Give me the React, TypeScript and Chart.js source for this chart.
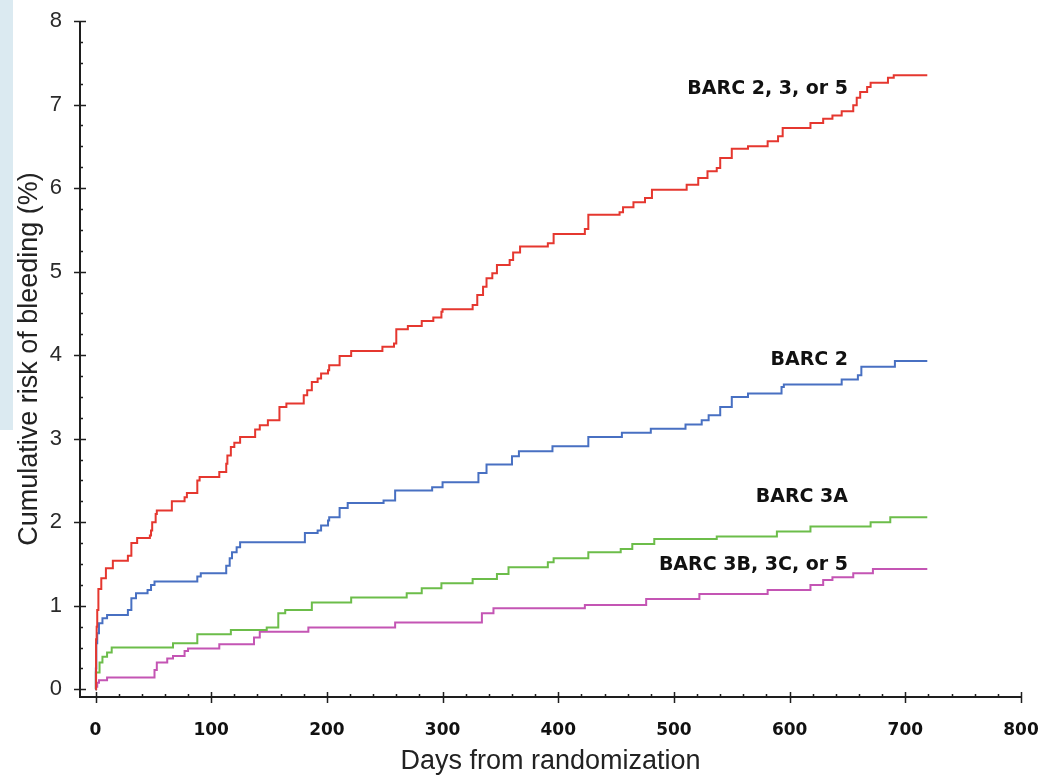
import React, { useEffect, useRef } from 'react';
import { Chart, registerables } from 'chart.js';

Chart.register(...registerables);

// Axis ticks
const xTicks = [0, 100, 200, 300, 400, 500, 600, 700, 800];
const yTicks = [0, 1, 2, 3, 4, 5, 6, 7, 8];

// BARC 2, 3, or 5 (red)
const redDays = [0, 0.5, 1, 1.5, 2.5, 5, 9, 15, 28, 31, 36, 47, 48, 49, 52, 53, 66, 77, 79, 88, 90, 107, 113, 114, 117, 120, 125, 138, 142, 149, 159, 165, 180, 183, 187, 192, 195, 201, 202, 211, 221, 248, 258, 260, 270, 282, 292, 299, 300, 326, 330, 335, 338, 343, 347, 358, 361, 367, 391, 396, 423, 426, 453, 456, 465, 475, 481, 511, 521, 529, 537, 540, 550, 564, 581, 590, 594, 618, 629, 637, 645, 655, 658, 661, 667, 670, 685, 690, 719];
const redVals = [0, 0.6, 0.75, 0.95, 1.2, 1.33, 1.45, 1.54, 1.6, 1.75, 1.81, 1.84, 1.9, 2.0, 2.1, 2.14, 2.25, 2.3, 2.35, 2.5, 2.54, 2.6, 2.7, 2.8, 2.9, 2.95, 3.02, 3.11, 3.16, 3.22, 3.38, 3.42, 3.52, 3.58, 3.68, 3.72, 3.78, 3.82, 3.88, 3.99, 4.05, 4.1, 4.14, 4.31, 4.35, 4.41, 4.45, 4.52, 4.55, 4.6, 4.72, 4.82, 4.92, 4.98, 5.08, 5.14, 5.23, 5.3, 5.34, 5.45, 5.51, 5.68, 5.71, 5.77, 5.83, 5.88, 5.98, 6.04, 6.12, 6.2, 6.24, 6.36, 6.47, 6.5, 6.56, 6.62, 6.72, 6.78, 6.83, 6.87, 6.92, 6.99, 7.08, 7.15, 7.21, 7.26, 7.32, 7.35, 7.35];

// BARC 2 (blue)
const blueDays = [0, 0.3, 0.7, 1.5, 3, 6, 10, 28, 31, 35, 45, 48, 51, 88, 91, 113, 116, 118, 122, 125, 181, 192, 195, 201, 202, 211, 218, 249, 259, 291, 300, 331, 338, 360, 366, 395, 426, 455, 480, 510, 524, 530, 540, 550, 564, 593, 595, 645, 659, 662, 691, 719];
const blueVals = [0, 0.25, 0.55, 0.67, 0.79, 0.85, 0.89, 0.95, 1.09, 1.15, 1.19, 1.25, 1.29, 1.35, 1.39, 1.48, 1.57, 1.64, 1.7, 1.76, 1.87, 1.9, 1.96, 2.02, 2.06, 2.17, 2.23, 2.26, 2.38, 2.42, 2.48, 2.59, 2.69, 2.79, 2.85, 2.91, 3.02, 3.07, 3.12, 3.17, 3.22, 3.28, 3.38, 3.5, 3.54, 3.62, 3.65, 3.71, 3.76, 3.86, 3.93, 3.93];

// BARC 3A (green)
const greenDays = [0, 0.3, 3.5, 6, 10, 14, 67, 88, 117, 148, 158, 164, 187, 221, 269, 282, 299, 326, 347, 357, 391, 396, 426, 454, 464, 483, 537, 589, 618, 670, 687, 719];
const greenVals = [0, 0.2, 0.32, 0.39, 0.44, 0.5, 0.55, 0.66, 0.71, 0.74, 0.91, 0.95, 1.04, 1.1, 1.15, 1.21, 1.27, 1.32, 1.38, 1.46, 1.52, 1.57, 1.64, 1.68, 1.74, 1.8, 1.83, 1.89, 1.95, 2.0, 2.06, 2.06];

// BARC 3B, 3C, or 5 (magenta)
const purpleDays = [0, 0.5, 1.5, 3, 10, 51, 53, 62, 67, 77, 80, 107, 137, 142, 184, 259, 334, 344, 423, 476, 522, 581, 618, 629, 637, 655, 672, 719];
const purpleVals = [0, 0.03, 0.08, 0.11, 0.14, 0.23, 0.32, 0.37, 0.4, 0.46, 0.49, 0.54, 0.62, 0.69, 0.74, 0.8, 0.91, 0.97, 1.01, 1.08, 1.14, 1.19, 1.25, 1.31, 1.34, 1.39, 1.44, 1.44];

const seriesNames = ['BARC 2, 3, or 5', 'BARC 2', 'BARC 3A', 'BARC 3B, 3C, or 5'];
const seriesColors = ['#e5372f', '#4870c2', '#6cbd4a', '#c455b4'];
const seriesDays = [redDays, blueDays, greenDays, purpleDays];
const seriesVals = [redVals, blueVals, greenVals, purpleVals];

// Curve-label anchors (data coordinates, right-aligned)
const labelDays = [650.5, 650.5, 650.5, 650.5];
const labelVals = [7.19, 3.94, 2.305, 1.49];

const X_MIN = -13.4;
const Y_MIN = -0.092;

const axesPlugin = {
  id: 'customAxes',
  beforeDatasetsDraw(chart: any) {
    const { ctx, chartArea, scales } = chart;
    const xs = scales.x;
    const ys = scales.y;
    const left = chartArea.left;
    const bottom = chartArea.bottom;
    ctx.save();
    ctx.strokeStyle = '#1e1e1e';
    ctx.lineWidth = 2;
    ctx.beginPath();
    ctx.moveTo(left, ys.getPixelForValue(yTicks[yTicks.length - 1]));
    ctx.lineTo(left, bottom);
    ctx.lineTo(xs.getPixelForValue(xTicks[xTicks.length - 1]), bottom);
    ctx.stroke();

    ctx.lineWidth = 1.5;
    ctx.beginPath();
    for (let i = 0; i < yTicks.length; i++) {
      const py = Math.round(ys.getPixelForValue(yTicks[i])) + 0.5;
      ctx.moveTo(left - 6, py);
      ctx.lineTo(left + 6, py);
      if (i < yTicks.length - 1) {
        for (let k = 1; k < 4; k++) {
          const v = yTicks[i] + ((yTicks[i + 1] - yTicks[i]) * k) / 4;
          const pm = Math.round(ys.getPixelForValue(v)) + 0.5;
          ctx.moveTo(left, pm);
          ctx.lineTo(left + 3, pm);
        }
      }
    }
    for (let i = 0; i < xTicks.length; i++) {
      const px = Math.round(xs.getPixelForValue(xTicks[i])) + 0.5;
      ctx.moveTo(px, bottom - 5);
      ctx.lineTo(px, bottom + 6);
      if (i < xTicks.length - 1) {
        for (let k = 1; k < 5; k++) {
          const v = xTicks[i] + ((xTicks[i + 1] - xTicks[i]) * k) / 5;
          const pm = Math.round(xs.getPixelForValue(v)) + 0.5;
          ctx.moveTo(pm, bottom);
          ctx.lineTo(pm, bottom - 3);
        }
      }
    }
    ctx.stroke();
    ctx.restore();
  },
  afterDatasetsDraw(chart: any) {
    const { ctx, scales } = chart;
    ctx.save();
    ctx.fillStyle = '#111';
    ctx.font = 'bold 19px "DejaVu Sans"';
    ctx.textAlign = 'right';
    ctx.textBaseline = 'middle';
    for (let i = 0; i < seriesNames.length; i++) {
      ctx.fillText(
        seriesNames[i],
        scales.x.getPixelForValue(labelDays[i]),
        scales.y.getPixelForValue(labelVals[i])
      );
    }
    ctx.restore();
  },
};

export default function App() {
  const canvasRef = useRef<HTMLCanvasElement | null>(null);

  useEffect(() => {
    const canvas = canvasRef.current;
    if (!canvas) return;
    const datasets = seriesNames.map((name, s) => ({
      label: name,
      data: seriesDays[s].map((d, i) => ({ x: d, y: seriesVals[s][i] })),
      borderColor: seriesColors[s],
      backgroundColor: seriesColors[s],
      borderWidth: 2,
      pointRadius: 0,
      stepped: 'before' as const,
      fill: false,
    }));
    const chart = new Chart(canvas, {
      type: 'line',
      data: { datasets },
      options: {
        animation: false,
        responsive: false,
        devicePixelRatio: 1,
        layout: { padding: { top: 21, right: 23, left: 0, bottom: 0 } },
        plugins: { legend: { display: false }, tooltip: { enabled: false } },
        scales: {
          x: {
            type: 'linear',
            min: X_MIN,
            max: 800,
            afterBuildTicks: (axis: any) => {
              axis.ticks = xTicks.map((v) => ({ value: v }));
            },
            afterFit: (axis: any) => {
              axis.height = 82;
              axis.paddingLeft = 0;
              axis.paddingRight = 0;
              axis.paddingTop = 0;
              axis.paddingBottom = 0;
            },
            grid: { display: false, drawTicks: false },
            border: { display: false },
            ticks: {
              padding: 23,
              color: '#111',
              maxRotation: 0,
              font: { family: '"DejaVu Sans"', size: 17, weight: 'bold' },
            },
            title: {
              display: true,
              text: 'Days from randomization',
              color: '#222',
              font: { family: '"Liberation Sans"', size: 27 },
              padding: { top: 0, bottom: 1 },
            },
          },
          y: {
            type: 'linear',
            min: Y_MIN,
            max: 8,
            afterBuildTicks: (axis: any) => {
              axis.ticks = yTicks.map((v) => ({ value: v }));
            },
            afterFit: (axis: any) => {
              axis.width = 80;
              axis.paddingLeft = 0;
              axis.paddingRight = 0;
              axis.paddingTop = 0;
              axis.paddingBottom = 0;
            },
            grid: { display: false, drawTicks: false },
            border: { display: false },
            ticks: {
              padding: 18,
              color: '#2a2a2a',
              font: { family: '"Liberation Sans"', size: 22 },
            },
            title: {
              display: true,
              text: 'Cumulative risk of bleeding (%)',
              color: '#222',
              font: { family: '"Liberation Sans"', size: 27 },
              padding: { top: 13, bottom: 0 },
            },
          },
        },
      },
      plugins: [axesPlugin],
    });
    return () => chart.destroy();
  }, []);

  return (
    <div style={{ position: 'absolute', left: 0, top: 0, width: 1044, height: 779, background: '#fff' }}>
      <div style={{ position: 'absolute', left: 0, top: 0, width: 13, height: 430, background: '#dbeaf1' }} />
      <canvas
        ref={canvasRef}
        width={1044}
        height={779}
        style={{ position: 'absolute', left: 0, top: 0, width: 1044, height: 779 }}
      />
    </div>
  );
}
